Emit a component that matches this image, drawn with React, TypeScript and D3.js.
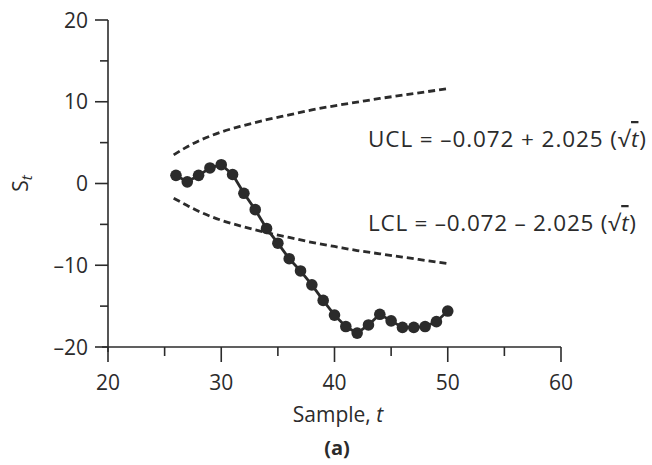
import React from "react";
import * as d3 from "d3";

const samples = [26, 27, 28, 29, 30, 31, 32, 33, 34, 35, 36, 37, 38, 39, 40, 41, 42, 43, 44, 45, 46, 47, 48, 49, 50];
const stValues = [1.0, 0.2, 1.0, 1.9, 2.3, 1.1, -1.2, -3.2, -5.5, -7.3, -9.2, -10.7, -12.4, -14.3, -16.1, -17.5, -18.3, -17.3, -16.0, -16.8, -17.6, -17.6, -17.5, -16.9, -15.6];

const limitT = [25.8, 27, 28, 30, 32, 34, 36, 38, 40, 42, 44, 46, 48, 50];
const uclValues = [3.5, 4.5, 5.2, 6.3, 7.1, 7.8, 8.4, 9.0, 9.5, 9.95, 10.4, 10.8, 11.2, 11.6];
const lclValues = [-1.8, -2.7, -3.4, -4.5, -5.3, -6.0, -6.6, -7.2, -7.7, -8.2, -8.6, -9.0, -9.4, -9.8];

const xMajorTicks = [20, 30, 40, 50, 60];
const xMinorTicks = [25, 35, 45, 55];
const yMajorTicks = [-20, -10, 0, 10, 20];
const yMinorTicks = [-15, -5, 5, 15];

const W = 652;
const H = 465;
const FONT = "'Open Sans', Lato, sans-serif";
const INK = "#2b2b2b";

export default function App() {
  const x = d3.scaleLinear().domain([20, 60]).range([108, 561]);
  const y = d3.scaleLinear().domain([-20, 20]).range([347, 20]);

  const dataLine = d3
    .line<number>()
    .x((_, i) => x(samples[i]))
    .y((d) => y(d));

  const limitLine = d3
    .line<number>()
    .x((_, i) => x(limitT[i]))
    .y((d) => y(d))
    .curve(d3.curveMonotoneX);

  const fs = 21;

  return (
    <svg
      width={W}
      height={H}
      style={{ position: "absolute", left: 0, top: 0, background: "#fff" }}
      fontFamily={FONT}
    >
      {/* axes */}
      <line x1={x(20)} x2={x(20)} y1={y(20)} y2={y(-20) + 5} stroke={INK} strokeWidth={1.6} />
      <line x1={x(20) - 6} x2={x(60)} y1={y(-20)} y2={y(-20)} stroke={INK} strokeWidth={1.6} />
      {yMajorTicks.map((t) => (
        <g key={"ym" + t}>
          <line x1={x(20) - 13} x2={x(20)} y1={y(t)} y2={y(t)} stroke={INK} strokeWidth={1.6} />
          <text x={x(20) - 20} y={y(t)} dy="0.36em" textAnchor="end" fontSize={fs} fill={INK}>
            {t < 0 ? "\u2013" + Math.abs(t) : String(t)}
          </text>
        </g>
      ))}
      {yMinorTicks.map((t) => (
        <line key={"yn" + t} x1={x(20) - 8} x2={x(20)} y1={y(t)} y2={y(t)} stroke={INK} strokeWidth={1.6} />
      ))}
      {xMajorTicks.map((t) => (
        <g key={"xm" + t}>
          <line x1={x(t)} x2={x(t)} y1={y(-20)} y2={y(-20) + 15} stroke={INK} strokeWidth={1.6} />
          <text x={x(t)} y={390} textAnchor="middle" fontSize={fs} fill={INK}>
            {String(t)}
          </text>
        </g>
      ))}
      {xMinorTicks.map((t) => (
        <line key={"xn" + t} x1={x(t)} x2={x(t)} y1={y(-20)} y2={y(-20) + 9} stroke={INK} strokeWidth={1.6} />
      ))}

      {/* axis labels */}
      <text x={338} y={422} textAnchor="middle" fontSize={fs} fill={INK}>
        Sample, <tspan fontStyle="italic">t</tspan>
      </text>
      <text transform={`translate(28, ${y(0)}) rotate(-90)`} textAnchor="middle" fontSize={fs} fill={INK}>
        <tspan>S</tspan>
        <tspan fontStyle="italic" fontSize={15} dy={4}>t</tspan>
      </text>
      <text x={337} y={455} textAnchor="middle" fontSize={fs - 1} fontWeight="bold" fill={INK}>
        (a)
      </text>

      {/* control limits */}
      <path d={limitLine(uclValues) || ""} fill="none" stroke={INK} strokeWidth={2.8} strokeDasharray="7,4" />
      <path d={limitLine(lclValues) || ""} fill="none" stroke={INK} strokeWidth={2.8} strokeDasharray="7,4" />

      {/* data */}
      <path d={dataLine(stValues) || ""} fill="none" stroke={INK} strokeWidth={2.8} />
      {stValues.map((v, i) => (
        <circle key={i} cx={x(samples[i])} cy={y(v)} r={5.8} fill={INK} />
      ))}

      {/* annotations */}
      <text x={368} y={147} fontSize={22.5} fill={INK} textLength={278} lengthAdjust="spacing">
        UCL = –0.072 + 2.025 (√<tspan fontStyle="italic" textDecoration="overline">t</tspan>)
      </text>
      <text x={368} y={231} fontSize={22.5} fill={INK} textLength={268} lengthAdjust="spacing">
        LCL = –0.072 – 2.025 (√<tspan fontStyle="italic" textDecoration="overline">t</tspan>)
      </text>
    </svg>
  );
}
